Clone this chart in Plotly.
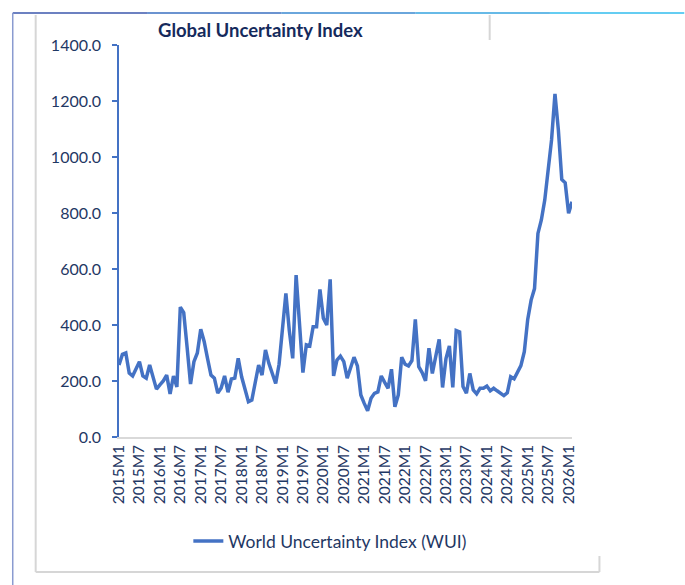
import plotly.graph_objects as go

# ---- data -------------------------------------------------------------
years = list(range(2015, 2027))
months = [f"{y}M{m}" for y in years for m in range(1, 13)]
categories = months[: months.index("2026M2") + 1]  # 2015M1 .. 2026M2

wui_values = [
    257, 295, 300, 228, 218, 245, 269, 218, 210, 257, 215, 171,   # 2015
    186, 200, 221, 154, 218, 179, 464, 444, 320, 189, 269, 300,   # 2016
    385, 341, 280, 221, 210, 157, 175, 218, 160, 207, 210, 281,   # 2017
    215, 170, 126, 132, 200, 257, 221, 311, 263, 230, 191, 260,   # 2018
    380, 513, 380, 281, 578, 400, 230, 329, 325, 394, 394, 527,   # 2019
    424, 400, 563, 218, 275, 289, 269, 210, 250, 285, 254, 150,   # 2020
    120, 94, 138, 156, 161, 218, 195, 174, 242, 108, 150, 285,    # 2021
    260, 254, 273, 420, 251, 230, 201, 317, 227, 290, 349, 177,   # 2022
    280, 325, 177, 380, 375, 180, 156, 227, 168, 154, 174, 174,   # 2023
    182, 165, 174, 165, 155, 148, 158, 215, 208, 230, 255, 305,   # 2024
    420, 489, 530, 727, 775, 846, 954, 1061, 1225, 1096, 920, 908,  # 2025
    799, 840,                                                     # 2026
]

tick_labels = [c for c in categories if c.endswith("M1") or c.endswith("M7")]
y_ticks = [0, 200, 400, 600, 800, 1000, 1200, 1400]

series_name = "World Uncertainty Index (WUI)"
title_text = "Global Uncertainty Index"

# ---- styling ----------------------------------------------------------
LINE = "#4472C4"
TEXT = "#1F3864"
FONT = "Lato"

W, H = 685, 585
L, R = 118.5, 685 - 572.5
T, B = 45, 585 - 437
pw, ph = W - L - R, H - T - B


def px(x):
    return (x - L) / pw


def py(y):
    return (H - B - y) / ph


fig = go.Figure()
fig.add_trace(
    go.Scatter(
        x=categories,
        y=wui_values,
        mode="lines",
        name=series_name,
        line=dict(color=LINE, width=3.5),
    )
)

shapes = []
# decorative frame of the original screenshot
grad = ["#3b57ad", "#3a6fc0", "#3889d0", "#35a3df", "#31bdee"]
seg = (685 - 12) / len(grad)
for k, c in enumerate(grad):
    shapes.append(dict(type="line", xref="paper", yref="paper",
                       x0=px(12 + k * seg), x1=px(12 + (k + 1) * seg),
                       y0=py(13), y1=py(13), line=dict(color=c, width=1.5)))
shapes.append(dict(type="line", xref="paper", yref="paper", x0=px(12), x1=px(12),
                   y0=py(13), y1=py(585), line=dict(color="#8a9bd0", width=1.5)))
gray = "#d6d6d6"
shapes += [
    dict(type="line", xref="paper", yref="paper", x0=px(35), x1=px(35),
         y0=py(15), y1=py(572), line=dict(color=gray, width=2)),
    dict(type="line", xref="paper", yref="paper", x0=px(35), x1=px(600),
         y0=py(572), y1=py(572), line=dict(color=gray, width=2)),
    dict(type="line", xref="paper", yref="paper", x0=px(600), x1=px(600),
         y0=py(556), y1=py(572), line=dict(color=gray, width=2)),
    dict(type="line", xref="paper", yref="paper", x0=px(490), x1=px(490),
         y0=py(15), y1=py(40), line=dict(color=gray, width=2)),
]

fig.update_layout(
    width=W,
    height=H,
    margin=dict(l=L, r=R, t=T, b=B, pad=0),
    paper_bgcolor="white",
    plot_bgcolor="white",
    font=dict(family=FONT, color=TEXT, size=15),
    shapes=shapes,
    annotations=[
        dict(text=f"<b>{title_text}</b>", xref="paper", yref="paper",
             x=px(260), y=py(30), xanchor="center", yanchor="middle",
             showarrow=False, font=dict(family=FONT, size=18.5, color="#152a5c")),
    ],
    showlegend=True,
    legend=dict(orientation="h", x=px(188), y=py(541), xanchor="left",
                yanchor="middle", font=dict(family=FONT, size=17.5, color=TEXT),
                bgcolor="rgba(0,0,0,0)"),
    xaxis=dict(
        type="category",
        range=[0, len(categories) - 1],
        tickmode="array",
        tickvals=tick_labels,
        ticktext=tick_labels,
        tickangle=-90,
        showgrid=False,
        zeroline=False,
        showline=True,
        linecolor="#d9d9d9",
        linewidth=1.5,
        ticks="",
        tickfont=dict(family=FONT, size=15.5, color=TEXT),
    ),
    yaxis=dict(
        range=[0, 1400],
        tickmode="array",
        tickvals=y_ticks,
        tickformat=".1f",
        showgrid=False,
        zeroline=False,
        showline=True,
        linecolor=LINE,
        linewidth=1.5,
        ticks="outside",
        ticklen=5,
        tickwidth=1.5,
        tickcolor=LINE,
        ticklabelstandoff=8,
        tickfont=dict(family=FONT, size=16, color=TEXT),
    ),
)

fig.write_html("out.html")
